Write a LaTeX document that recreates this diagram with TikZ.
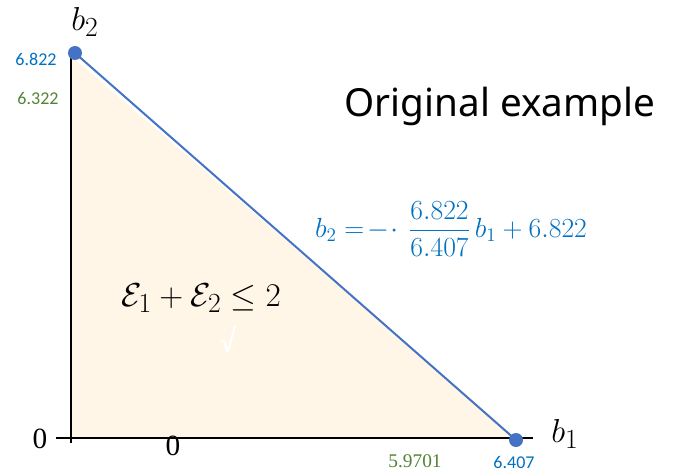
\documentclass[tikz,border=0pt]{standalone}
\usepackage{amsmath,amssymb}
\usepackage{fontspec}
\usepackage{tikz}
\usetikzlibrary{positioning}
\newfontfamily\labelfont{Carlito}
\newfontfamily\titlefont{Noto Sans}
\newfontfamily\numfont{Liberation Serif}
\definecolor{lineblue}{RGB}{68,114,196}
\definecolor{textblue}{RGB}{0,112,192}
\definecolor{valgreen}{RGB}{84,130,53}
\definecolor{regionfill}{RGB}{255,246,232}

\tikzset{
  axis/.style={line width=1.6pt, black},
  corner/.style={circle, fill=lineblue, inner sep=0pt, minimum size=10.5pt},
  bluelabel/.style={textblue, font=\labelfont\fontsize{13.5}{15}\selectfont},
  greenlabel/.style={valgreen, font=\labelfont\fontsize{13.5}{15}\selectfont},
  greenserif/.style={valgreen, font=\numfont\fontsize{14.5}{16}\selectfont},
  zerolabel/.style={font=\numfont\fontsize{22}{24}\selectfont},
  axislabel/.style={font=\fontsize{30}{32}\selectfont}
}

\begin{document}
\begin{tikzpicture}[x=0.75pt, y=-0.75pt]
  \useasboundingbox (0,0) rectangle (686,471);

  % feasible region
  \fill[regionfill] (71,56) -- (71,438) -- (516,438) -- cycle;

  % axes
  \coordinate (yTop) at (71,56);
  \coordinate (yBot) at (71,443);
  \coordinate (xLeft) at (56,438);
  \coordinate (xRight) at (533,438);
  \draw[axis] (yBot) -- (yTop);
  \draw[axis] (xLeft) -- (xRight);

  % corner points and the budget line
  \node[corner] (b2dot) at (75,53) {};
  \node[corner] (b1dot) at (516,440) {};
  \draw[lineblue, line width=1.5pt] (b2dot.center) -- (b1dot.center);

  % axis names
  \node[axislabel] (b2name) at (85,22) {$b_2$};
  \node[axislabel] (b1name) at (565,434) {$b_1$};

  % values on the axes
  \node[bluelabel] (b2top) at (36,59) {6.822};
  \node[greenlabel] (b2low) at (38,98) {6.322};
  \node[zerolabel] (yzero) at (40,439) {0};
  \node[zerolabel] (xzero) at (173,446) {0};
  \node[greenserif] (b1low) at (415,461) {5.9701};
  \node[bluelabel] (b1top) at (514,462) {6.407};

  % texts
  \node[font=\titlefont\fontsize{29}{32}\selectfont] (title) at (500,106) {Original example};
  \node[textblue, font=\fontsize{20.5}{22}\selectfont] (lineeq) at (451,229)
    {$b_2 =\!-\!\cdot\, \dfrac{6.822}{6.407}\, b_1 + 6.822$};
  \node[font=\fontsize{28}{30}\selectfont] (budget) at (201,298)
    {$\mathcal{E}_1 + \mathcal{E}_2 \leq 2$};
  \node[white, font=\labelfont\fontsize{24}{26}\selectfont] (check) at (227,340) {√};
\end{tikzpicture}
\end{document}
